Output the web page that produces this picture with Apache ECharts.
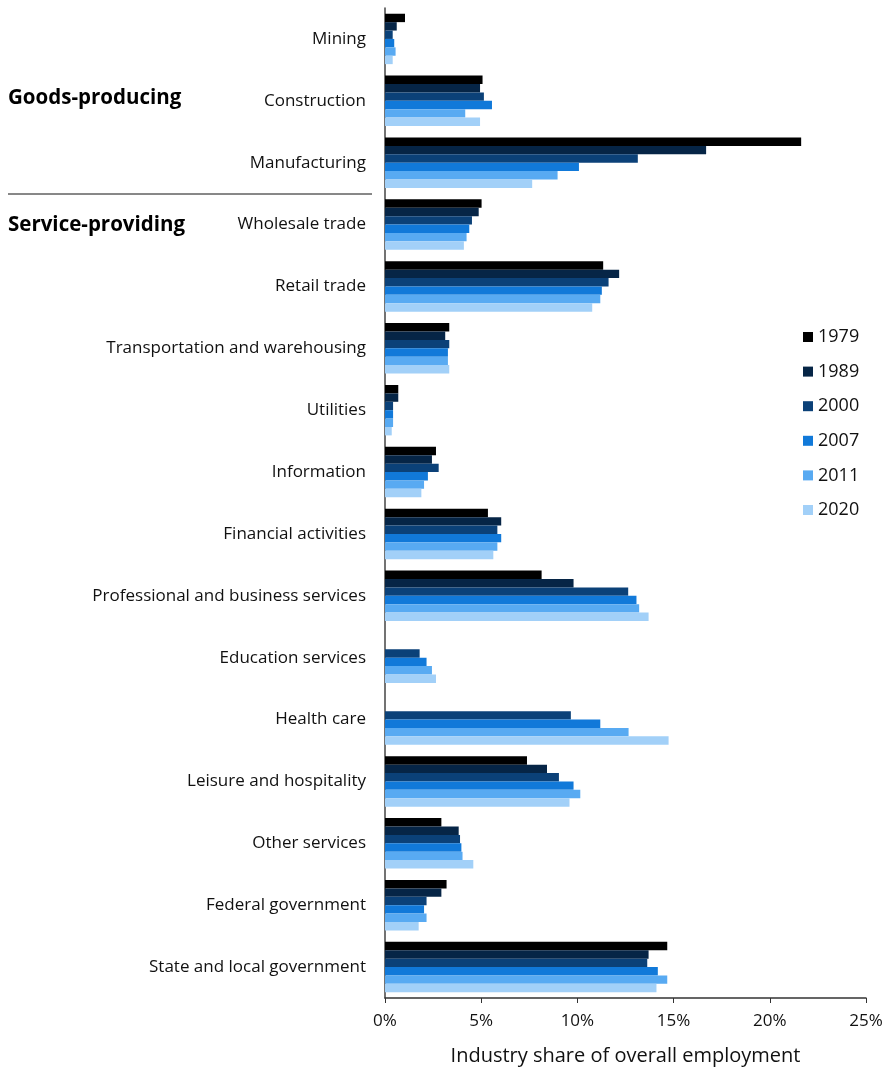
<!DOCTYPE html>
<html>
<head>
<meta charset="utf-8">
<script src="https://cdn.jsdelivr.net/npm/echarts@6/dist/echarts.min.js"></script>
<style>
  html, body { margin: 0; padding: 0; background: #fff; }
  #main { width: 888px; height: 1067px; }
</style>
</head>
<body>
<div id="main"></div>
<script>
// industries, top to bottom
const industries = [
    'Mining', 'Construction', 'Manufacturing', 'Wholesale trade', 'Retail trade',
    'Transportation and warehousing', 'Utilities', 'Information', 'Financial activities',
    'Professional and business services', 'Education services', 'Health care',
    'Leisure and hospitality', 'Other services', 'Federal government', 'State and local government'
];
const years = ['1979', '1989', '2000', '2007', '2011', '2020'];

// share of overall employment, %
const y1979 = [1.04, 5.07, 21.63, 5.02, 11.34, 3.34, 0.69, 2.65, 5.35, 8.14, null, null, 7.38, 2.93, 3.20, 14.67];
const y1989 = [0.61, 4.94, 16.69, 4.87, 12.17, 3.13, 0.69, 2.44, 6.04, 9.80, null, null, 8.42, 3.83, 2.93, 13.70];
const y2000 = [0.40, 5.14, 13.14, 4.52, 11.62, 3.34, 0.42, 2.79, 5.84, 12.64, 1.80, 9.66, 9.04, 3.90, 2.16, 13.63];
const y2007 = [0.48, 5.56, 10.08, 4.38, 11.27, 3.27, 0.42, 2.23, 6.04, 13.07, 2.16, 11.19, 9.80, 3.97, 2.03, 14.18];
const y2011 = [0.55, 4.17, 8.97, 4.24, 11.19, 3.27, 0.42, 2.03, 5.84, 13.21, 2.44, 12.66, 10.15, 4.03, 2.16, 14.67];
const y2020 = [0.40, 4.94, 7.65, 4.10, 10.77, 3.34, 0.35, 1.89, 5.63, 13.70, 2.65, 14.74, 9.59, 4.59, 1.75, 14.11];
const seriesData = [y1979, y1989, y2000, y2007, y2011, y2020];

const colors = ['#000000', '#062546', '#0b4178', '#1179d9', '#58aaf2', '#a2d0f8'];
const fontFamily = '"Open Sans", "Noto Sans", sans-serif';

const chart = echarts.init(document.getElementById('main'));

const option = {
    animation: false,
    color: colors,
    textStyle: { fontFamily: fontFamily },
    grid: { left: 385, right: 22, top: 8, bottom: 69, containLabel: false, outerBoundsMode: 'none' },
    legend: {
        orient: 'vertical',
        left: 798,
        top: 323,
        itemWidth: 10,
        itemHeight: 10,
        itemGap: 16.6,
        icon: 'rect',
        textStyle: { fontSize: 18, color: '#111', fontFamily: fontFamily },
        data: years
    },
    xAxis: {
        type: 'value',
        min: 0,
        max: 25,
        interval: 5,
        name: 'Industry share of overall employment',
        nameLocation: 'middle',
        nameGap: 48,
        nameTextStyle: { fontSize: 20, color: '#111' },
        axisLine: { show: true, lineStyle: { color: '#333', width: 1.5 } },
        axisTick: { show: true, length: 5, lineStyle: { color: '#333' } },
        axisLabel: { formatter: '{value}%', fontSize: 17, color: '#111', margin: 15 },
        splitLine: { show: false }
    },
    yAxis: {
        type: 'category',
        inverse: true,
        data: industries,
        axisLine: { show: true, lineStyle: { color: '#444', width: 1.5 } },
        axisTick: { show: false },
        axisLabel: { fontSize: 17, color: '#111', margin: 19 }
    },
    series: years.map((yr, i) => ({
        name: yr,
        type: 'bar',
        data: seriesData[i],
        barWidth: 8.4,
        barGap: '0%'
    })),
    graphic: [
        {
            type: 'text', left: 8, top: 88,
            style: { text: 'Goods-producing', font: 'bold 20.5px ' + fontFamily, fill: '#000' }
        },
        {
            type: 'text', left: 8, top: 215,
            style: { text: 'Service-providing', font: 'bold 20.5px ' + fontFamily, fill: '#000' }
        },
        {
            type: 'line',
            shape: { x1: 8, y1: 194, x2: 372, y2: 194 },
            style: { stroke: '#111', lineWidth: 1 }
        }
    ]
};

chart.setOption(option);
</script>
</body>
</html>
